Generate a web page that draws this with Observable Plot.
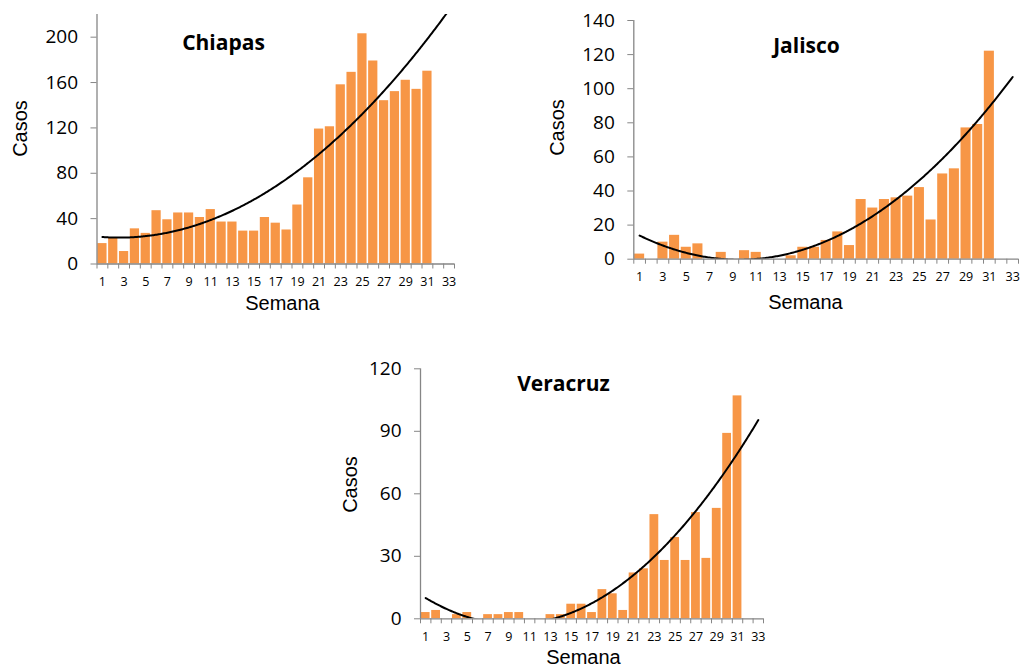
<!DOCTYPE html>
<html><head><meta charset="utf-8">
<script src="https://cdn.jsdelivr.net/npm/d3@7"></script>
<script src="https://cdn.jsdelivr.net/npm/@observablehq/plot@0.6"></script>
<style>
body{margin:0;background:#fff;}
#wrap{position:relative;width:1029px;height:668px;overflow:hidden;background:#fff;}
#wrap svg{position:absolute;}
</style></head><body><div id="wrap"></div>
<script>
// ---- data ----
const weeks = d3.range(1, 32);
const chiapasCases = [18,23,11,31,27,47,39,45,45,41,48,37,37,29,29,41,36,30,52,76,119,121,158,169,203,179,144,152,162,154,170];
const jaliscoCases = [3,0,10,14,7,9,0,4,0,5,4,0,0,2,7,7,11,16,8,35,30,35,36,37,42,23,50,53,77,79,122];
const veracruzCases = [3,4,0,2,3,0,2,2,3,3,0,0,2,2,7,7,3,14,12,4,22,24,50,28,39,28,51,29,53,89,107];
const xTickLabels = [1,3,5,7,9,11,13,15,17,19,21,23,25,27,29,31,33];
const chiapasYTicks = [0,40,80,120,160,200];
const jaliscoYTicks = [0,20,40,60,80,100,120,140];
const veracruzYTicks = [0,30,60,90,120];
const panelTitles = ["Chiapas","Jalisco","Veracruz"];
const xLabel = "Semana";
const yLabel = "Casos";

// quadratic least-squares trend (Excel polynomial order 2)
function quadFit(xs, ys) {
  const S = [0,0,0,0,0], T = [0,0,0];
  xs.forEach((x,i) => { for (let k=0;k<5;k++) S[k]+=x**k; for (let k=0;k<3;k++) T[k]+=ys[i]*x**k; });
  const M = [[S[0],S[1],S[2],T[0]],[S[1],S[2],S[3],T[1]],[S[2],S[3],S[4],T[2]]];
  for (let c=0;c<3;c++) {
    for (let r=c+1;r<3;r++) { const f=M[r][c]/M[c][c]; for (let k=c;k<4;k++) M[r][k]-=f*M[c][k]; }
  }
  const b=[0,0,0];
  for (let r=2;r>=0;r--) { let s=M[r][3]; for (let k=r+1;k<3;k++) s-=M[r][k]*b[k]; b[r]=s/M[r][r]; }
  return x => b[0]+b[1]*x+b[2]*x*x;
}

const boundaries = d3.range(0.5, 34, 1);
const axisColor = "#868686";

function panel(cfg) {
  const rows = weeks.map((w,i) => ({week: w, cases: cfg.values[i]}));
  const f = quadFit(weeks, cfg.values);
  const trend = d3.range(1, 33.0001, 0.1).map(x => ({x, y: f(x)}));
  const mL = cfg.mL, mT = cfg.mT;
  const at = (x, y) => ({frameAnchor: "top-left", dx: x - mL, dy: y - mT});
  const svg = Plot.plot({
    width: cfg.w, height: cfg.h,
    marginLeft: cfg.mL, marginRight: cfg.mR, marginTop: cfg.mT, marginBottom: cfg.mB,
    style: {fontFamily: "'Open Sans', sans-serif", background: "transparent", overflow: "visible", color: "#000"},
    x: {type: "linear", domain: [0.5, 33.5]},
    y: {domain: [0, cfg.yMax]},
    marks: [
      Plot.rectY(rows, {x1: d => d.week - 0.5, x2: d => d.week + 0.5, y: "cases", fill: "#F79646", insetLeft: 0.8, insetRight: 0.8}),
      Plot.line(trend, {x: "x", y: "y", stroke: "#000", strokeWidth: 2, clip: true}),
      Plot.ruleY([0], {stroke: axisColor, strokeWidth: 1.3}),
      Plot.ruleX([0.5], {stroke: axisColor, strokeWidth: 1.3}),
      Plot.axisY({ticks: cfg.yTicks, tickSize: 6, tickPadding: 13, stroke: axisColor, fontSize: 19, label: null}),
      Plot.axisX({ticks: boundaries, tickSize: 5, tickFormat: () => "", stroke: axisColor, label: null}),
      Plot.axisX({ticks: xTickLabels, tickSize: 0, tickPadding: 13, fontSize: 12.5, label: null}),
      Plot.text([cfg.title], {...at(cfg.titlePos[0], cfg.titlePos[1]), text: d => d, fontSize: 21, fontWeight: "bold", textAnchor: "middle", lineAnchor: "middle", fill: "#000"}),
      Plot.text([yLabel], {...at(cfg.yLabPos[0], cfg.yLabPos[1]), text: d => d, fontSize: 20, fontFamily: "'Liberation Sans', Arial, sans-serif", rotate: -90, textAnchor: "middle", lineAnchor: "middle", fill: "#000"}),
      Plot.text([xLabel], {...at(cfg.xLabPos[0], cfg.xLabPos[1]), text: d => d, fontSize: 20, fontFamily: "'Liberation Sans', Arial, sans-serif", textAnchor: "middle", lineAnchor: "middle", fill: "#000"})
    ]
  });
  svg.style.left = cfg.left + "px";
  svg.style.top = cfg.top + "px";
  document.getElementById("wrap").appendChild(svg);
}

panel({title: panelTitles[0], values: chiapasCases, yTicks: chiapasYTicks, yMax: 220,
  left: 0, top: 0, w: 470, h: 320, mL: 96.5, mR: 16, mT: 14, mB: 56.5,
  titlePos: [223, 43], yLabPos: [20, 128], xLabPos: [282, 303]});
panel({title: panelTitles[1], values: jaliscoCases, yTicks: jaliscoYTicks, yMax: 140,
  left: 520, top: 0, w: 509, h: 320, mL: 113.3, mR: 11, mT: 20, mB: 61.3,
  titlePos: [286, 46], yLabPos: [37, 127], xLabPos: [285, 302]});
panel({title: panelTitles[2], values: veracruzCases, yTicks: veracruzYTicks, yMax: 120,
  left: 330, top: 355, w: 450, h: 313, mL: 90, mR: 17, mT: 13.3, mB: 49.7,
  titlePos: [233, 29], yLabPos: [20, 129], xLabPos: [253, 302]});
</script>
</body></html>
